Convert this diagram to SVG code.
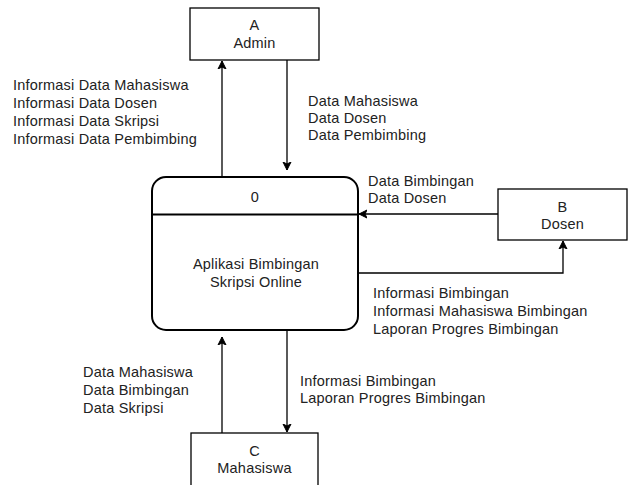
<svg xmlns="http://www.w3.org/2000/svg" width="629" height="485" viewBox="0 0 629 485">
<defs>
<marker id="arr" markerWidth="10" markerHeight="10" refX="8" refY="5" orient="auto" markerUnits="userSpaceOnUse">
<path d="M0,1 L8,5 L0,9 L2,5 Z" fill="#000" stroke="#000" stroke-width="1"/>
</marker>
<style>
.box{fill:#fff;stroke:#000;stroke-width:1.3}
.proc{fill:#fff;stroke:#000;stroke-width:2}
.t{font-family:"Liberation Sans",Arial,sans-serif;font-size:14.5px;letter-spacing:0.2px;fill:#222}
.c{text-anchor:middle}
.ln{fill:none;stroke:#000;stroke-width:1.3}
</style>
</defs>
<rect width="629" height="485" fill="#fff"/>
<g id="connectors">
<line class="ln" x1="222" y1="177" x2="222" y2="61" marker-end="url(#arr)"/>
<line class="ln" x1="287" y1="60" x2="287" y2="170" marker-end="url(#arr)"/>
<line class="ln" x1="498" y1="214" x2="359" y2="214" marker-end="url(#arr)"/>
<polyline class="ln" points="358,273 563,273 563,241" marker-end="url(#arr)"/>
<line class="ln" x1="287" y1="330" x2="287" y2="432" marker-end="url(#arr)"/>
<line class="ln" x1="222" y1="433" x2="222" y2="337" marker-end="url(#arr)"/>
</g>
<g id="labels">
<text class="t"><tspan x="13" y="90">Informasi Data Mahasiswa</tspan><tspan x="13" y="108">Informasi Data Dosen</tspan><tspan x="13" y="126">Informasi Data Skripsi</tspan><tspan x="13" y="144">Informasi Data Pembimbing</tspan></text>
<text class="t"><tspan x="308" y="106">Data Mahasiswa</tspan><tspan x="308" y="123">Data Dosen</tspan><tspan x="308" y="140">Data Pembimbing</tspan></text>
<text class="t"><tspan x="368" y="186">Data Bimbingan</tspan><tspan x="368" y="203">Data Dosen</tspan></text>
<text class="t"><tspan x="373" y="298">Informasi Bimbingan</tspan><tspan x="373" y="316">Informasi Mahasiswa Bimbingan</tspan><tspan x="373" y="334">Laporan Progres Bimbingan</tspan></text>
<text class="t"><tspan x="83" y="377">Data Mahasiswa</tspan><tspan x="83" y="395">Data Bimbingan</tspan><tspan x="83" y="413">Data Skripsi</tspan></text>
<text class="t"><tspan x="300" y="386">Informasi Bimbingan</tspan><tspan x="300" y="403">Laporan Progres Bimbingan</tspan></text>
</g>
<g id="admin">
<rect class="box" x="190" y="8" width="129" height="52"/>
<text class="t c"><tspan x="254.5" y="30">A</tspan><tspan x="254.5" y="48">Admin</tspan></text>
</g>
<g id="process">
<rect class="proc" x="152" y="177" width="206" height="153" rx="14" ry="14"/>
<line x1="152" y1="214.5" x2="358" y2="214.5" stroke="#000" stroke-width="2"/>
<text class="t c" x="255" y="202">0</text>
<text class="t c"><tspan x="256" y="269">Aplikasi Bimbingan</tspan><tspan x="256" y="287">Skripsi Online</tspan></text>
</g>
<g id="dosen">
<rect class="box" x="498" y="189" width="129" height="51"/>
<text class="t c"><tspan x="562.5" y="212">B</tspan><tspan x="562.5" y="229">Dosen</tspan></text>
</g>
<g id="mahasiswa">
<rect class="box" x="191" y="433" width="127" height="53"/>
<text class="t c"><tspan x="254.5" y="456">C</tspan><tspan x="254.5" y="473">Mahasiswa</tspan></text>
</g>
</svg>
